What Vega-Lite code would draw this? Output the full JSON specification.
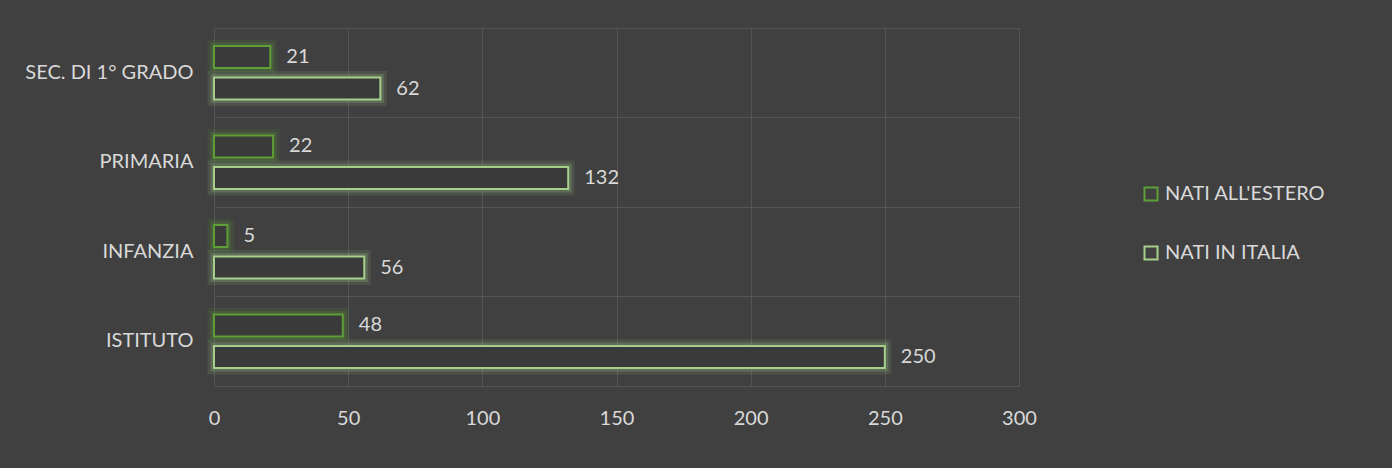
{
  "$schema": "https://vega.github.io/schema/vega-lite/v6.json",
  "autosize": "none",
  "width": 805,
  "height": 358,
  "padding": {"left": 214, "top": 28, "right": 373, "bottom": 82},
  "background": "#404040",
  "config": {"view": {"stroke": null}},
  "data": {
    "values": [
      {"grado": "SEC. DI 1° GRADO", "serie": "NATI ALL'ESTERO", "valore": 21},
      {"grado": "SEC. DI 1° GRADO", "serie": "NATI IN ITALIA", "valore": 62},
      {"grado": "PRIMARIA", "serie": "NATI ALL'ESTERO", "valore": 22},
      {"grado": "PRIMARIA", "serie": "NATI IN ITALIA", "valore": 132},
      {"grado": "INFANZIA", "serie": "NATI ALL'ESTERO", "valore": 5},
      {"grado": "INFANZIA", "serie": "NATI IN ITALIA", "valore": 56},
      {"grado": "ISTITUTO", "serie": "NATI ALL'ESTERO", "valore": 48},
      {"grado": "ISTITUTO", "serie": "NATI IN ITALIA", "valore": 250}
    ]
  },
  "encoding": {
    "y": {
      "field": "grado",
      "type": "nominal",
      "sort": ["SEC. DI 1° GRADO", "PRIMARIA", "INFANZIA", "ISTITUTO"],
      "scale": {"paddingInner": 0.4, "paddingOuter": 0.2},
      "axis": {
        "title": null,
        "domain": false,
        "ticks": false,
        "grid": true,
        "bandPosition": -0.3333,
        "gridColor": "#555555",
        "gridWidth": 1,
        "labelPadding": 21,
        "labelFont": "Lato",
        "labelFontSize": 20,
        "labelColor": "#d9d9d9"
      }
    },
    "yOffset": {
      "field": "serie",
      "type": "nominal",
      "sort": ["NATI ALL'ESTERO", "NATI IN ITALIA"],
      "scale": {"paddingInner": 0.3, "paddingOuter": 0}
    },
    "x": {
      "field": "valore",
      "type": "quantitative",
      "scale": {"domain": [0, 300], "nice": false},
      "axis": {
        "title": null,
        "values": [0, 50, 100, 150, 200, 250, 300],
        "grid": true,
        "gridColor": "#555555",
        "gridWidth": 1,
        "domain": true,
        "domainColor": "#555555",
        "ticks": false,
        "labelFlush": false,
        "labelPadding": 22,
        "labelFont": "Lato",
        "labelFontSize": 20,
        "labelColor": "#d9d9d9"
      }
    }
  },
  "layer": [
    {
      "mark": {"type": "bar", "fill": "transparent", "strokeWidth": 13, "strokeOpacity": 0.12},
      "encoding": {
        "stroke": {
          "field": "serie",
          "type": "nominal",
          "scale": {"domain": ["NATI ALL'ESTERO", "NATI IN ITALIA"], "range": ["#5e9e37", "#a6cf8b"]}
        }
      }
    },
    {
      "mark": {"type": "bar", "fill": "transparent", "strokeWidth": 7, "strokeOpacity": 0.22},
      "encoding": {
        "stroke": {
          "field": "serie",
          "type": "nominal",
          "scale": {"domain": ["NATI ALL'ESTERO", "NATI IN ITALIA"], "range": ["#5e9e37", "#a6cf8b"]}
        }
      }
    },
    {
      "mark": {"type": "bar", "fill": "#3a3a3a", "strokeWidth": 2},
      "encoding": {
        "stroke": {
          "field": "serie",
          "type": "nominal",
          "scale": {"domain": ["NATI ALL'ESTERO", "NATI IN ITALIA"], "range": ["#5e9e37", "#a6cf8b"]},
          "legend": {
            "title": null,
            "orient": "none",
            "legendX": 927,
            "legendY": 156,
            "symbolType": "square",
            "symbolSize": 170,
            "symbolStrokeWidth": 2,
            "symbolFillColor": "#404040",
            "symbolOpacity": 1,
            "rowPadding": 37,
            "labelFont": "Lato",
            "labelFontSize": 20,
            "labelColor": "#d9d9d9",
            "labelOffset": 4,
            "labelLimit": 400
          }
        }
      }
    },
    {
      "mark": {"type": "text", "align": "left", "baseline": "middle", "dx": 16, "font": "Lato", "fontSize": 20, "fill": "#d9d9d9"},
      "encoding": {
        "text": {"field": "valore", "type": "quantitative"}
      }
    }
  ]
}
